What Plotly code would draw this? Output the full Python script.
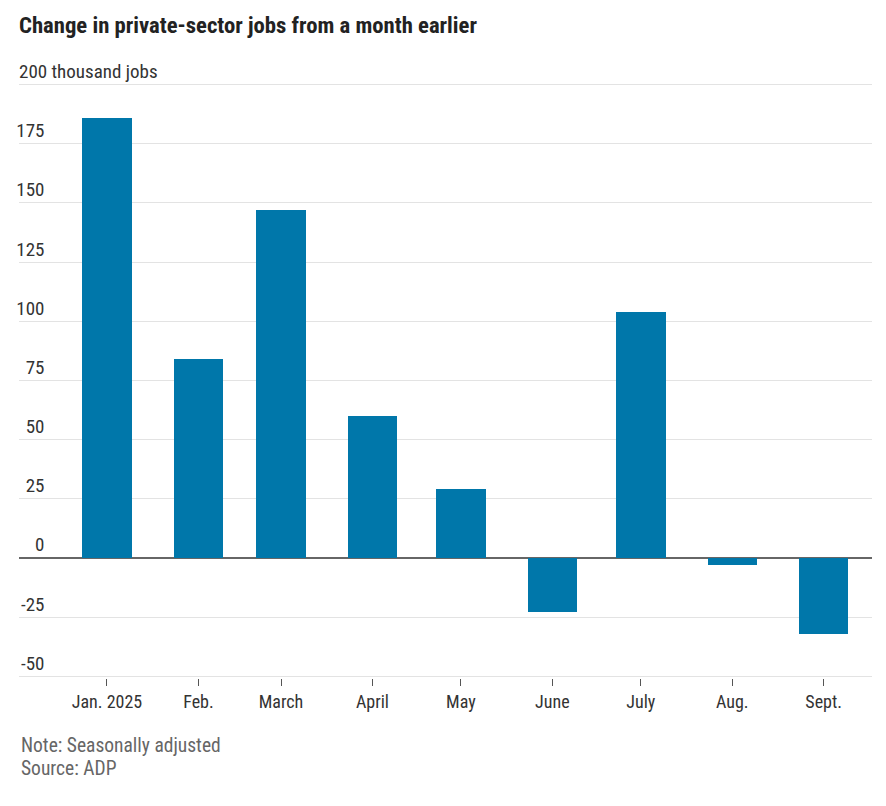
import plotly.graph_objects as go

months = ["2025-01-01", "2025-02-01", "2025-03-01", "2025-04-01", "2025-05-01",
          "2025-06-01", "2025-07-01", "2025-08-01", "2025-09-01"]
month_labels = ["Jan. 2025", "Feb.", "March", "April", "May", "June", "July", "Aug.", "Sept."]
job_change = [186, 84, 147, 60, 29, -23, 104, -3, -32]

y_ticks = [-50, -25, 0, 25, 50, 75, 100, 125, 150, 175, 200]
y_tick_text = ["-50", "-25", "0", "25", "50", "75", "100", "125", "150", "175", ""]
top_label = "200 thousand jobs"

FONT = "Roboto Condensed, Liberation Sans Narrow, DejaVu Sans Condensed, sans-serif"
BAR_COLOR = "#0077aa"
DAY_MS = 86400000
Y_RANGE = [-50.7, 200.7]

fig = go.Figure()
fig.add_trace(go.Bar(
    x=months, y=job_change,
    marker=dict(color=BAR_COLOR, line=dict(width=0)),
    width=16.75 * DAY_MS,
    hoverinfo="x+y",
    showlegend=False,
))
# invisible helper trace so the overlay axis (top label) is drawn
fig.add_trace(go.Scatter(x=months, y=job_change, yaxis="y2", mode="none",
                         showlegend=False, hoverinfo="skip"))

fig.update_layout(
    width=886, height=806,
    margin=dict(l=11, r=22, t=75, b=136, autoexpand=False),
    paper_bgcolor="white", plot_bgcolor="white",
    font=dict(family=FONT, color="#333333", size=19),
    title=dict(
        text="<b>Change in private-sector jobs from a month earlier</b>",
        x=11 / 886, xanchor="left", xref="container",
        y=1 - 17 / 806, yanchor="middle", yref="container",
        font=dict(family=FONT, size=22.7, color="#222222"),
    ),
    bargap=0,
    xaxis=dict(
        type="date",
        range=["2024-12-02 04:00", "2025-09-17 09:00"],
        tickvals=months, ticktext=month_labels,
        ticks="outside", ticklen=7, tickwidth=1, tickcolor="#555555",
        showgrid=False, showline=False, zeroline=False,
        tickfont=dict(size=18, color="#333333"),
    ),
    yaxis=dict(
        range=Y_RANGE,
        tickvals=y_ticks, ticktext=y_tick_text,
        anchor="free", position=0.0299,
        ticklabelposition="outside top",
        ticks="", showline=False,
        showgrid=True, gridcolor="#e3e3e3", gridwidth=1,
        zeroline=True, zerolinecolor="#666666", zerolinewidth=1.5,
        tickfont=dict(size=19, color="#333333"),
    ),
    yaxis2=dict(
        range=Y_RANGE, overlaying="y", side="left", anchor="x",
        tickvals=[200], ticktext=[top_label],
        ticklabelposition="inside top", ticklabeloverflow="allow",
        ticklabelstandoff=-3,
        ticks="", showline=False, showgrid=False, zeroline=False,
        tickfont=dict(size=19, color="#333333"),
    ),
    annotations=[
        dict(text="Note: Seasonally adjusted", xref="paper", yref="paper",
             x=0, y=-0.1135, xanchor="left", yanchor="middle", showarrow=False,
             font=dict(family=FONT, size=19.5, color="#666666")),
        dict(text="Source: ADP", xref="paper", yref="paper",
             x=0, y=-0.1525, xanchor="left", yanchor="middle", showarrow=False,
             font=dict(family=FONT, size=19.5, color="#666666")),
    ],
)

fig.write_html("out.html")
